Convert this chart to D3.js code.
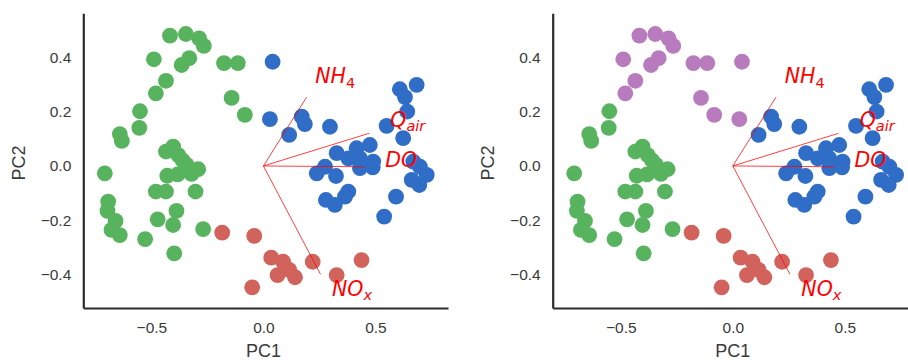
<!DOCTYPE html>
<html><head><meta charset="utf-8">
<script src="https://cdn.jsdelivr.net/npm/d3@7"></script>
<style>
html,body{margin:0;padding:0;background:#fff;}
svg{display:block;}
</style></head>
<body>
<svg id="chart" width="908" height="360"></svg>
<script>
// ---- data (PC1, PC2) per cluster ----
const clusterA_pc1 = [-0.417,-0.346,-0.287,-0.266,-0.489,-0.331,-0.365,-0.176,-0.114,-0.435,-0.480,-0.142,-0.083];
const clusterA_pc2 = [0.479,0.485,0.469,0.441,0.392,0.396,0.371,0.378,0.378,0.313,0.267,0.250,0.188];

const clusterB_pc1 = [-0.551,-0.554,-0.641,-0.632,-0.435,-0.403,-0.380,-0.343,-0.291,-0.321,-0.708,-0.429,-0.383,-0.480,-0.435,-0.303,-0.693,-0.696,-0.660,-0.678,-0.641,-0.388,-0.472,-0.403,-0.528,-0.269,-0.398,-0.360];
const clusterB_pc2 = [0.201,0.140,0.117,0.092,0.053,0.071,0.040,0.004,-0.012,-0.029,-0.027,-0.036,-0.031,-0.094,-0.094,-0.094,-0.131,-0.165,-0.202,-0.235,-0.254,-0.165,-0.196,-0.217,-0.269,-0.232,-0.321,0.020];

const clusterC_pc1 = [-0.184,-0.041,0.035,0.063,-0.050,0.088,0.115,0.141,0.220,0.327,0.438,0.100];
const clusterC_pc2 = [-0.245,-0.257,-0.337,-0.401,-0.446,-0.352,-0.382,-0.409,-0.352,-0.401,-0.346,-0.375];

const clusterD_pc1 = [0.171,0.185,0.115,0.297,0.609,0.684,0.632,0.642,0.550,0.624,0.327,0.416,0.475,0.379,0.431,0.490,0.238,0.275,0.324,0.431,0.488,0.669,0.699,0.729,0.662,0.696,0.379,0.364,0.279,0.319,0.592,0.539];
const clusterD_pc2 = [0.181,0.154,0.114,0.144,0.282,0.298,0.253,0.200,0.147,0.102,0.047,0.065,0.077,0.028,0.028,0.016,-0.027,-0.003,-0.037,-0.008,-0.005,0.016,-0.003,-0.033,-0.051,-0.070,-0.094,-0.113,-0.125,-0.143,-0.113,-0.186];

const clusterE_pc1 = [0.041, 0.029];
const clusterE_pc2 = [0.383, 0.172];

// colours per panel (clusters A and E differ)
const leftColors  = ["#58b35f", "#58b35f", "#d2625c", "#2f6dc6", "#2f6dc6"];
const rightColors = ["#b87bbd", "#58b35f", "#d2625c", "#2f6dc6", "#b87bbd"];

// loadings
const loadingMain = ["NH", "Q", "DO", "NO"];
const loadingSub  = ["4", "air", "", "x"];
const loadingSubItalic = [false, true, false, true];
const loadingPC1 = [0.193, 0.472, 0.453, 0.255];
const loadingPC2 = [0.253, 0.120, -0.003, -0.398];
const labelScale = 1.2;

const xTicks = [-0.5, 0.0, 0.5];
const yTicks = [-0.4, -0.2, 0.0, 0.2, 0.4];

// ---- layout ----
const svg = d3.select("#chart");
const xDomain = [-0.804, 0.824];
const yDomain = [-0.522, 0.561];
const plotTop = 13.3, plotBottom = 308, plotW = 364.7;
const panelLefts = [83.3, 552.7];
const clusters = [
  [clusterA_pc1, clusterA_pc2],
  [clusterB_pc1, clusterB_pc2],
  [clusterC_pc1, clusterC_pc2],
  [clusterD_pc1, clusterD_pc2],
  [clusterE_pc1, clusterE_pc2]
];
const fmt = d => d3.format(".1f")(d).replace("-", "\u2212");

panelLefts.forEach((left, pi) => {
  const colors = pi === 0 ? leftColors : rightColors;
  const x = d3.scaleLinear().domain(xDomain).range([left, left + plotW]);
  const y = d3.scaleLinear().domain(yDomain).range([plotBottom, plotTop]);
  const g = svg.append("g");

  // points
  clusters.forEach((c, ci) => {
    const pts = c[0].map((v, i) => [v, c[1][i]]);
    g.append("g").selectAll("circle").data(pts).join("circle")
      .attr("cx", d => x(d[0])).attr("cy", d => y(d[1]))
      .attr("r", 7.9).attr("fill", colors[ci]);
  });

  // loadings
  loadingPC1.forEach((lx, i) => {
    const ly = loadingPC2[i];
    g.append("line")
      .attr("x1", x(0)).attr("y1", y(0)).attr("x2", x(lx)).attr("y2", y(ly))
      .attr("stroke", "#ff0000").attr("stroke-width", 1).attr("stroke-opacity", 0.75);
    const t = g.append("text")
      .attr("x", x(lx * labelScale)).attr("y", y(ly * labelScale))
      .attr("fill", "#ff0000")
      .attr("font-family", "DejaVu Sans")
      .attr("font-size", 20.5)
      .attr("font-style", "italic");
    t.append("tspan").text(loadingMain[i]);
    if (loadingSub[i]) {
      t.append("tspan").text(loadingSub[i])
        .attr("font-size", 14.5)
        .attr("dy", 4.5)
        .attr("font-style", loadingSubItalic[i] ? "italic" : "normal");
    }
  });

  // axes
  const xAxis = d3.axisBottom(x).tickValues(xTicks).tickSize(0).tickPadding(14).tickFormat(fmt);
  const yAxis = d3.axisLeft(y).tickValues(yTicks).tickSize(0).tickPadding(12).tickFormat(fmt);
  const gx = g.append("g").attr("transform", `translate(0,${plotBottom})`).call(xAxis);
  const gy = g.append("g").attr("transform", `translate(${left},0)`).call(yAxis);
  [gx, gy].forEach(a => {
    a.select(".domain").attr("stroke", "#2b2b2b").attr("stroke-width", 2.2);
    a.selectAll("text").attr("font-family", "Liberation Sans, Arial, sans-serif")
      .attr("font-size", 15.5).attr("fill", "#3a3a3a");
  });

  g.append("text")
    .attr("x", x(0)).attr("y", 357)
    .attr("text-anchor", "middle")
    .attr("font-family", "Liberation Sans, Arial, sans-serif")
    .attr("font-size", 18).attr("fill", "#3a3a3a")
    .text("PC1");
  g.append("text")
    .attr("transform", `translate(${left - 58.5},${163}) rotate(-90)`)
    .attr("text-anchor", "middle")
    .attr("font-family", "Liberation Sans, Arial, sans-serif")
    .attr("font-size", 18).attr("fill", "#3a3a3a")
    .text("PC2");
});
</script>
</body></html>
